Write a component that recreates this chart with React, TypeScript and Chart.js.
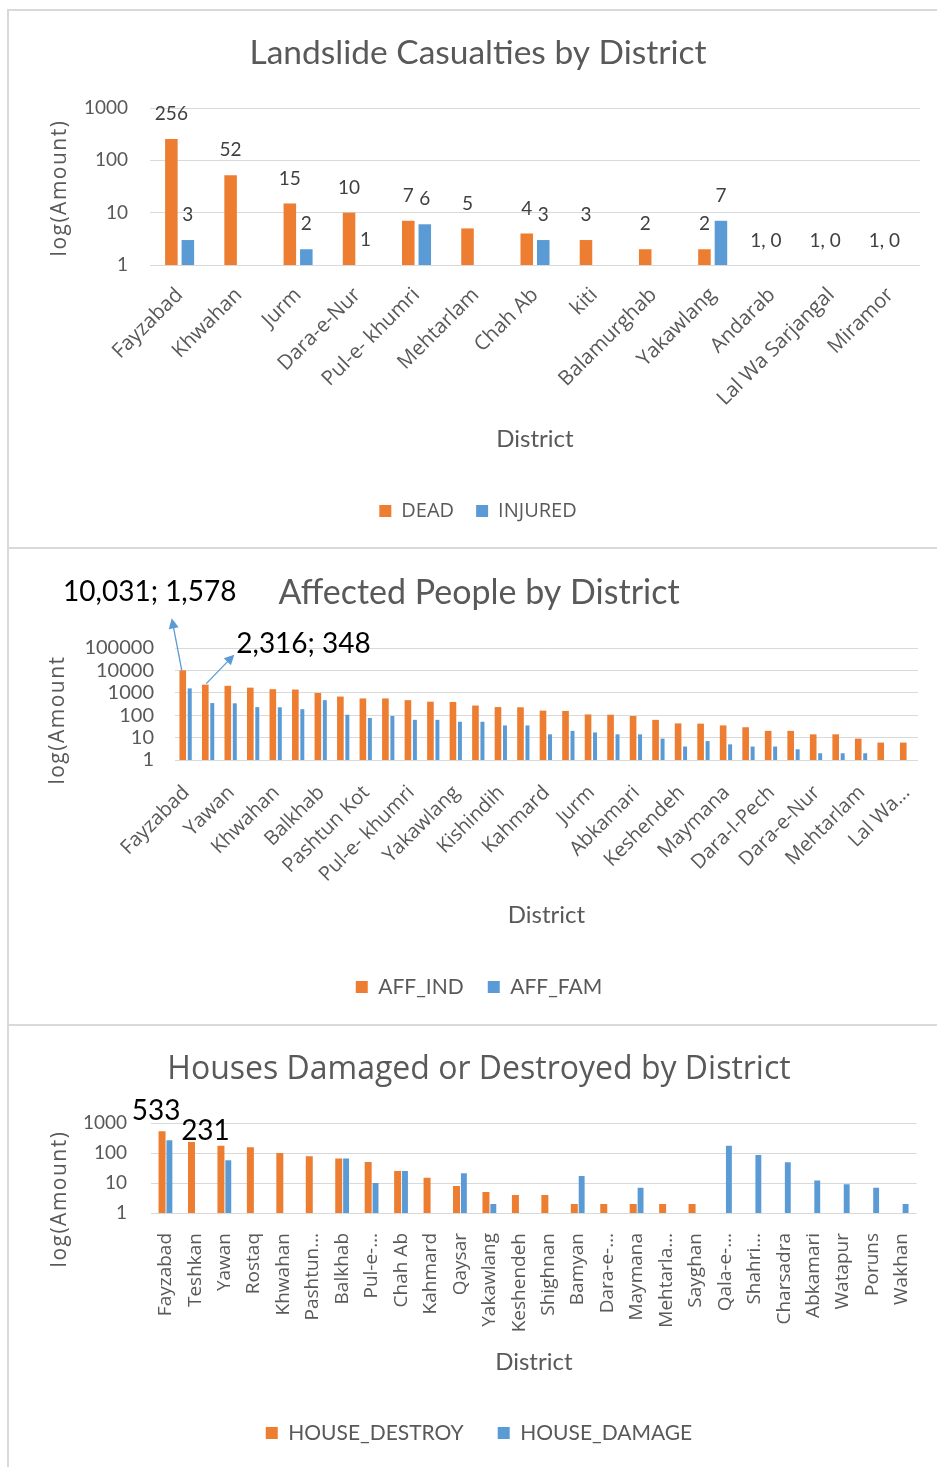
import React, { useEffect, useRef } from 'react';
import { Chart, registerables } from 'chart.js';

Chart.register(...registerables);

// ---------- DATA ----------
// Chart 1: Landslide casualties
const casualtyDistricts = ['Fayzabad', 'Khwahan', 'Jurm', 'Dara-e-Nur', 'Pul-e- khumri', 'Mehtarlam', 'Chah Ab', 'kiti', 'Balamurghab', 'Yakawlang', 'Andarab', 'Lal Wa Sarjangal', 'Miramor'];
const dead = [256, 52, 15, 10, 7, 5, 4, 3, 2, 2, 1, 1, 1];
const injured = [3, 0, 2, 1, 6, 0, 3, 0, 0, 7, 0, 0, 0];
const casualtyTicks = [1, 10, 100, 1000];

// Chart 2: Affected people (every other district label is hidden in the picture)
const affectedDistricts = ['Fayzabad', 'Teshkan', 'Yawan', 'Rostaq', 'Khwahan', 'Chah Ab', 'Balkhab', 'Qaysar', 'Pashtun Kot', 'Shighnan', 'Pul-e- khumri', 'Bamyan', 'Yakawlang', 'Sayghan', 'Kishindih', 'Charsadra', 'Kahmard', 'Watapur', 'Jurm', 'Shahri Buzurg', 'Abkamari', 'Poruns', 'Keshendeh', 'Wakhan', 'Maymana', 'Andarab', 'Dara-I-Pech', 'kiti', 'Dara-e-Nur', 'Balamurghab', 'Mehtarlam', 'Miramor', 'Lal Wa...'];
const affInd = [10031, 2316, 2050, 1700, 1450, 1400, 980, 680, 560, 560, 470, 400, 390, 270, 230, 225, 160, 155, 108, 105, 92, 62, 43, 42, 35, 29, 20, 20, 14, 14, 9, 6, 6];
const affFam = [1578, 348, 340, 230, 225, 185, 470, 105, 75, 92, 62, 62, 51, 51, 35, 35, 14, 20, 17, 14, 14, 9, 4, 7, 5, 4, 4, 3, 2, 2, 2, 0, 0];
const affectedTicks = [1, 10, 100, 1000, 10000, 100000];

// Chart 3: Houses damaged or destroyed
const houseDistricts = ['Fayzabad', 'Teshkan', 'Yawan', 'Rostaq', 'Khwahan', 'Pashtun…', 'Balkhab', 'Pul-e-…', 'Chah Ab', 'Kahmard', 'Qaysar', 'Yakawlang', 'Keshendeh', 'Shighnan', 'Bamyan', 'Dara-e-…', 'Maymana', 'Mehtarla…', 'Sayghan', 'Qala-e-…', 'Shahri…', 'Charsadra', 'Abkamari', 'Watapur', 'Poruns', 'Wakhan'];
const houseDestroy = [533, 231, 175, 154, 100, 78, 66, 50, 25, 15, 8, 5, 4, 4, 2, 2, 2, 2, 2, 0, 0, 0, 0, 0, 0, 0];
const houseDamage = [265, 0, 57, 0, 0, 0, 66, 10, 25, 0, 21, 2, 0, 0, 17, 0, 7, 0, 0, 175, 86, 49, 12, 9, 7, 2];
const houseTicks = [1, 10, 100, 1000];

// ---------- STYLE ----------
const ORANGE = '#ED7D31';
const BLUE = '#5B9BD5';
const TEXT = '#595959';
const GRID = '#D9D9D9';
const W = 937;

const fmt = (v: number) => v.toLocaleString('en-US');

type LayoutSpec = {
  canvasH: number;
  titleCY: number; titleSize: number;
  plotTop: number; plotBottom: number; plotLeft: number; plotRight: number;
  titleCX: number;
  xTitleCY: number; xTitleSize: number;
  legendCY: number; legendSize: number; legendPad: number;
};

function computeLayout(p: LayoutSpec) {
  const titleLH = p.titleSize * 1.2;
  const titlePadTop = p.titleCY - titleLH / 2;
  const titlePadBottom = p.plotTop - titlePadTop - titleLH;
  const itemH = Math.max(p.legendSize, 12);
  const legendTop = p.legendCY - p.legendPad - itemH / 2;
  const legendH = itemH + p.legendPad + 10;
  const bottomPad = p.canvasH - legendTop - legendH;
  const xAxisH = legendTop - p.plotBottom;
  const xTitleLH = p.xTitleSize * 1.2;
  const xTitlePadBottom = legendTop - xTitleLH / 2 - p.xTitleCY;
  const rightPad = W - p.plotRight;
  const leftPad = 2 * p.titleCX - p.plotRight;
  const yAxisW = p.plotLeft - leftPad;
  return { titlePadTop, titlePadBottom, bottomPad, xAxisH, xTitlePadBottom, rightPad, leftPad, yAxisW };
}

const yTitlePlugin = {
  id: 'yTitle',
  afterDraw(chart: any, _args: any, opts: any) {
    if (!opts || !opts.text) return;
    const ctx = chart.ctx;
    ctx.save();
    ctx.translate(opts.x, opts.y);
    ctx.rotate(-Math.PI / 2);
    ctx.font = `${opts.size}px ${opts.family}`;
    ctx.fillStyle = TEXT;
    ctx.textAlign = 'center';
    ctx.textBaseline = 'middle';
    if ('letterSpacing' in ctx) (ctx as any).letterSpacing = opts.spacing || '0px';
    ctx.fillText(opts.text, 0, 0);
    ctx.restore();
  },
};

function drawArrow(ctx: CanvasRenderingContext2D, x1: number, y1: number, x2: number, y2: number) {
  const ang = Math.atan2(y2 - y1, x2 - x1);
  const head = 10;
  ctx.save();
  ctx.strokeStyle = BLUE;
  ctx.fillStyle = BLUE;
  ctx.lineWidth = 1.3;
  ctx.beginPath();
  ctx.moveTo(x1, y1);
  ctx.lineTo(x2 - Math.cos(ang) * head * 0.8, y2 - Math.sin(ang) * head * 0.8);
  ctx.stroke();
  ctx.beginPath();
  ctx.moveTo(x2, y2);
  ctx.lineTo(x2 - head * Math.cos(ang) + 5 * Math.sin(ang), y2 - head * Math.sin(ang) - 5 * Math.cos(ang));
  ctx.lineTo(x2 - head * Math.cos(ang) - 5 * Math.sin(ang), y2 - head * Math.sin(ang) + 5 * Math.cos(ang));
  ctx.closePath();
  ctx.fill();
  ctx.restore();
}

function baseOptions(L: ReturnType<typeof computeLayout>, o: any) {
  return {
    animation: false,
    responsive: false,
    devicePixelRatio: 1,
    events: [],
    layout: { padding: { left: L.leftPad, right: L.rightPad, top: 0, bottom: L.bottomPad } },
    plugins: {
      title: {
        display: true,
        text: o.title,
        color: TEXT,
        font: { family: o.titleFamily, size: o.titleSize, weight: 'normal' },
        padding: { top: L.titlePadTop, bottom: L.titlePadBottom },
      },
      legend: {
        position: 'bottom',
        labels: {
          boxWidth: 12,
          boxHeight: 12,
          padding: o.legendPad,
          color: TEXT,
          font: { family: o.legendFamily, size: o.legendSize },
        },
      },
      tooltip: { enabled: false },
      yTitle: o.yTitle,
    },
    scales: {
      x: {
        grid: { display: false },
        border: { display: false },
        ticks: {
          autoSkip: false,
          minRotation: o.rotation,
          maxRotation: o.rotation,
          padding: o.xTickPad,
          color: TEXT,
          font: { family: o.xTickFamily, size: o.xTickSize },
          callback: o.xCallback,
        },
        title: {
          display: true,
          text: 'District',
          color: TEXT,
          font: { family: 'Lato', size: o.xTitleSize },
          padding: { top: 0, bottom: L.xTitlePadBottom },
        },
        afterFit: (s: any) => { s.height = L.xAxisH; },
      },
      y: {
        type: 'logarithmic',
        min: 1,
        max: o.yMax,
        grid: { color: GRID, lineWidth: 1, drawTicks: false },
        border: { display: false },
        ticks: {
          autoSkip: false,
          padding: o.yTickPad,
          color: TEXT,
          font: { family: 'Lato', size: o.yTickSize },
          callback: (v: any) => String(v),
        },
        afterBuildTicks: (s: any) => { s.ticks = o.yTicks.map((v: number) => ({ value: v })); },
        afterFit: (s: any) => { s.width = L.yAxisW; },
      },
    },
  };
}

// ---------- CHART 1 ----------
function buildCasualties(canvas: HTMLCanvasElement) {
  const spec: LayoutSpec = {
    canvasH: 538, titleCY: 43, titleSize: 33.5, plotTop: 98, plotBottom: 255, plotLeft: 150, plotRight: 920,
    titleCX: 478, xTitleCY: 429, xTitleSize: 24, legendCY: 501, legendSize: 20, legendPad: 22,
  };
  const L = computeLayout(spec);
  const labelsPlugin = {
    id: 'casLabels',
    afterDatasetsDraw(chart: any) {
      const ctx = chart.ctx;
      const m0 = chart.getDatasetMeta(0);
      const m1 = chart.getDatasetMeta(1);
      ctx.save();
      ctx.font = '19px Lato';
      ctx.fillStyle = '#404040';
      ctx.textAlign = 'center';
      ctx.textBaseline = 'middle';
      dead.forEach((v, i) => {
        const d = injured[i];
        if (v <= 1 && d === 0) {
          const x = chart.scales.x.getPixelForValue(i);
          const y = chart.scales.y.getPixelForValue(v);
          ctx.fillText(`${v}, ${d}`, x - 6, y - 24);
        } else {
          ctx.fillText(String(v), m0.data[i].x, m0.data[i].y - 25);
          if (d > 0) ctx.fillText(String(d), m1.data[i].x, m1.data[i].y - 25);
        }
      });
      ctx.restore();
    },
  };
  return new Chart(canvas, {
    type: 'bar',
    data: {
      labels: casualtyDistricts,
      datasets: [
        { label: 'DEAD', data: dead, backgroundColor: ORANGE, categoryPercentage: 0.557, barPercentage: 0.76 },
        { label: 'INJURED', data: injured, backgroundColor: BLUE, categoryPercentage: 0.557, barPercentage: 0.76 },
      ],
    },
    options: baseOptions(L, {
      title: 'Landslide Casualties by District', titleFamily: 'Lato', titleSize: 33.5,
      legendPad: 22, legendFamily: 'Open Sans', legendSize: 20,
      rotation: 45, xTickPad: 10, xTickFamily: 'Open Sans', xTickSize: 20.5,
      xCallback: (_v: any, i: number) => casualtyDistricts[i],
      xTitleSize: 24, yMax: 1000, yTicks: casualtyTicks, yTickPad: 22, yTickSize: 19,
      yTitle: { text: 'log(Amount)', x: 60, y: 178, size: 21, family: 'Open Sans', spacing: '1.5px' },
    }) as any,
    plugins: [yTitlePlugin, labelsPlugin],
  });
}

// ---------- CHART 2 ----------
function buildAffected(canvas: HTMLCanvasElement) {
  const spec: LayoutSpec = {
    canvasH: 475, titleCY: 43, titleSize: 34, plotTop: 98, plotBottom: 210, plotLeft: 175, plotRight: 918,
    titleCX: 479, xTitleCY: 365, xTitleSize: 24, legendCY: 437, legendSize: 21, legendPad: 24,
  };
  const L = computeLayout(spec);
  const annot = {
    id: 'affAnnot',
    afterDatasetsDraw(chart: any) {
      const ctx = chart.ctx;
      const m0 = chart.getDatasetMeta(0);
      const b0 = m0.data[0];
      const b1 = m0.data[1];
      drawArrow(ctx, b0.x - 1, b0.y, b0.x - 11, b0.y - 52);
      drawArrow(ctx, b1.x + 1, b1.y - 1, b1.x + 29, b1.y - 30);
      ctx.save();
      ctx.font = '28px Lato';
      ctx.fillStyle = '#000000';
      ctx.textBaseline = 'middle';
      ctx.textAlign = 'center';
      ctx.fillText(`${fmt(affInd[0])}; ${fmt(affFam[0])}`, b0.x - 33, b0.y - 78);
      ctx.textAlign = 'left';
      ctx.fillText(`${fmt(affInd[1])}; ${fmt(affFam[1])}`, b1.x + 31, b1.y - 41);
      ctx.restore();
    },
  };
  return new Chart(canvas, {
    type: 'bar',
    data: {
      labels: affectedDistricts,
      datasets: [
        { label: 'AFF_IND', data: affInd, backgroundColor: ORANGE, categoryPercentage: 0.62, barPercentage: 0.95 },
        { label: 'AFF_FAM', data: affFam, backgroundColor: BLUE, categoryPercentage: 0.62, barPercentage: 0.57 },
      ],
    },
    options: baseOptions(L, {
      title: 'Affected People by District', titleFamily: 'Lato', titleSize: 34,
      legendPad: 24, legendFamily: 'Lato', legendSize: 21,
      rotation: 45, xTickPad: 13, xTickFamily: 'Open Sans', xTickSize: 20,
      xCallback: (_v: any, i: number) => (i % 2 === 0 ? affectedDistricts[i] : ''),
      xTitleSize: 24, yMax: 100000, yTicks: affectedTicks, yTickPad: 21, yTickSize: 20,
      yTitle: { text: 'log(Amount', x: 58, y: 170, size: 21, family: 'Open Sans', spacing: '1.5px' },
    }) as any,
    plugins: [yTitlePlugin, annot],
  });
}

// ---------- CHART 3 ----------
function buildHouses(canvas: HTMLCanvasElement) {
  const spec: LayoutSpec = {
    canvasH: 440, titleCY: 43, titleSize: 32, plotTop: 96, plotBottom: 186, plotLeft: 151, plotRight: 922,
    titleCX: 479, xTitleCY: 335, xTitleSize: 24, legendCY: 406, legendSize: 21, legendPad: 34,
  };
  const L = computeLayout(spec);
  const annot = {
    id: 'houseAnnot',
    afterDatasetsDraw(chart: any) {
      const ctx = chart.ctx;
      const m0 = chart.getDatasetMeta(0);
      const b0 = m0.data[0];
      const b1 = m0.data[1];
      ctx.save();
      ctx.font = '28px Lato';
      ctx.fillStyle = '#000000';
      ctx.textAlign = 'center';
      ctx.textBaseline = 'middle';
      ctx.fillText(String(houseDestroy[0]), b0.x - 6, b0.y - 20);
      ctx.fillText(String(houseDestroy[1]), b1.x + 14, b1.y - 11);
      ctx.restore();
    },
  };
  return new Chart(canvas, {
    type: 'bar',
    data: {
      labels: houseDistricts,
      datasets: [
        { label: 'HOUSE_DESTROY', data: houseDestroy, backgroundColor: ORANGE, categoryPercentage: 0.5, barPercentage: 0.95 },
        { label: 'HOUSE_DAMAGE', data: houseDamage, backgroundColor: BLUE, categoryPercentage: 0.5, barPercentage: 0.8 },
      ],
    },
    options: baseOptions(L, {
      title: 'Houses Damaged or Destroyed by District', titleFamily: 'Open Sans', titleSize: 32,
      legendPad: 34, legendFamily: 'Lato', legendSize: 21,
      rotation: 90, xTickPad: 12, xTickFamily: 'Open Sans', xTickSize: 19,
      xCallback: (_v: any, i: number) => houseDistricts[i],
      xTitleSize: 24, yMax: 1000, yTicks: houseTicks, yTickPad: 24, yTickSize: 19,
      yTitle: { text: 'log(Amount)', x: 60, y: 172, size: 21, family: 'Open Sans', spacing: '1.5px' },
    }) as any,
    plugins: [yTitlePlugin, annot],
  });
}

function Panel({ top, height, build }: { top: number; height: number; build: (c: HTMLCanvasElement) => Chart }) {
  const ref = useRef<HTMLCanvasElement | null>(null);
  useEffect(() => {
    if (!ref.current) return;
    const chart = build(ref.current);
    return () => chart.destroy();
  }, [build]);
  return (
    <canvas
      ref={ref}
      width={W}
      height={height}
      style={{ position: 'absolute', left: 0, top, width: W, height }}
    />
  );
}

export default function App() {
  const line = (style: React.CSSProperties) => (
    <div style={{ position: 'absolute', background: GRID, ...style }} />
  );
  return (
    <div style={{ position: 'absolute', left: 0, top: 0, width: W, height: 1467, background: '#ffffff', overflow: 'hidden' }}>
      {line({ left: 7, top: 9, width: 2, height: 1458 })}
      {line({ left: 7, top: 9, width: 930, height: 2 })}
      {line({ left: 7, top: 547, width: 930, height: 2 })}
      {line({ left: 7, top: 1024, width: 930, height: 2 })}
      <Panel top={10} height={538} build={buildCasualties} />
      <Panel top={550} height={475} build={buildAffected} />
      <Panel top={1027} height={440} build={buildHouses} />
    </div>
  );
}
